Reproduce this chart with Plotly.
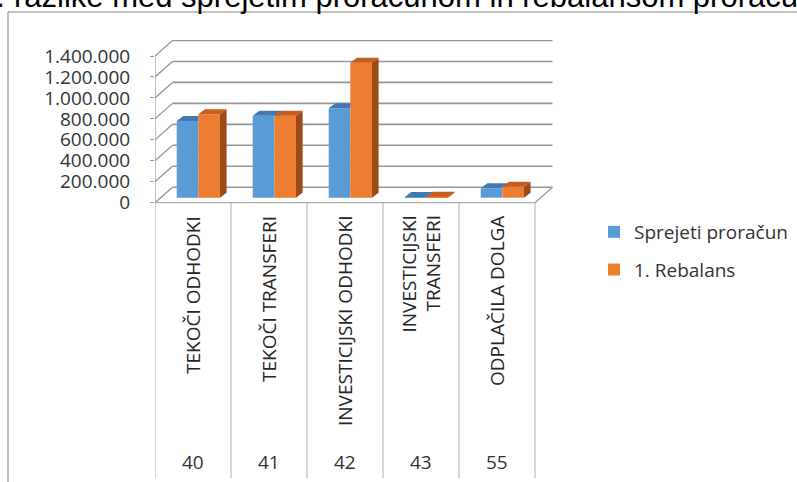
import plotly.graph_objects as go

# ---------------- data ----------------
categories = ["TEKOČI ODHODKI", "TEKOČI TRANSFERI", "INVESTICIJSKI ODHODKI",
              "INVESTICIJSKI<br>TRANSFERI", "ODPLAČILA DOLGA"]
codes = ["40", "41", "42", "43", "55"]
sprejeti = [732000, 782000, 853000, 6000, 90000]
rebalans = [796000, 782000, 1288000, 9000, 105000]
series_names = ["Sprejeti proračun", "1. Rebalans"]
y_ticks = [0, 200000, 400000, 600000, 800000, 1000000, 1200000, 1400000]
title_text = "razlike med sprejetim proračunom in rebalansom proračuna"

# ---------------- geometry (pixels of the page) ----------------
W, H = 797, 482
L, R, T, B = 155, 555, 40, 478
PXU = 76.0                       # pixels per category
x0 = -0.5
x1 = x0 + (R - L) / PXU
Y0PX = 202.7
V = 1400000 / 146.7              # value per pixel
ymax = (Y0PX - T) * V
ymin = -(B - Y0PX) * V

dxw, dyw = 17.5 / PXU, 15.5 * V   # wall depth
dxb, dyb = 6.7 / PXU, 5.0 * V     # bar depth
b0 = 5.0 * V                      # bar base (set back from the front edge)
bw = 21.6 / PXU
off_blue = (176.7 - L) / PXU - 0.5
off_orange = off_blue + bw

def pxx(px):
    return (px - L) / (R - L)

def pxy(py):
    return (B - py) / (B - T)

FONT = "Open Sans"
GRID = "#969696"
SEP = "#b0b0b0"


def clip_half(poly, axis, c, keep_ge):
    out = []
    n = len(poly)
    for i in range(n):
        p, q = poly[i], poly[(i + 1) % n]
        pin = p[axis] >= c if keep_ge else p[axis] <= c
        qin = q[axis] >= c if keep_ge else q[axis] <= c
        if pin:
            out.append(p)
        if pin != qin and q[axis] != p[axis]:
            s = (c - p[axis]) / (q[axis] - p[axis])
            out.append((p[0] + s * (q[0] - p[0]), p[1] + s * (q[1] - p[1])))
    return out


def visible_parts(poly, cover_x, cover_top):
    """poly minus the front face of the neighbouring bar (x >= cover_x, y <= cover_top)."""
    parts = []
    a = clip_half(poly, 0, cover_x, False)
    if len(a) >= 3:
        parts.append(a)
    if cover_top is not None:
        bpart = clip_half(clip_half(poly, 0, cover_x, True), 1, cover_top, True)
        if len(bpart) >= 3:
            parts.append(bpart)
    return parts


def add_polys(xs, ys, polys):
    for pg in polys:
        xs += [p[0] for p in pg] + [pg[0][0], None]
        ys += [p[1] for p in pg] + [pg[0][1], None]


def faces(vals, off, right_vals=None):
    tx, ty, sx, sy = [], [], [], []
    for i, v in enumerate(vals):
        a = i + off
        b = a + bw
        t = b0 + v
        top = [(a, t), (a + dxb, t + dyb), (b + dxb, t + dyb), (b, t)]
        side = [(b, b0), (b + dxb, b0 + dyb), (b + dxb, t + dyb), (b, t)]
        if right_vals is None:
            add_polys(tx, ty, [top])
            add_polys(sx, sy, [side])
        else:
            cover = b0 + right_vals[i]
            add_polys(tx, ty, visible_parts(top, b, cover))
            add_polys(sx, sy, visible_parts(side, b, cover))
    return tx, ty, sx, sy


fig = go.Figure()

specs = [
    (sprejeti, off_blue, "#5B9BD5", "#4478B0", "#3A6898", series_names[0], rebalans),
    (rebalans, off_orange, "#ED7D31", "#C65E1E", "#9E4A17", series_names[1], None),
]
for vals, off, cf, ct, cs, name, right in specs:
    fig.add_trace(go.Bar(x=list(range(len(vals))), y=vals, base=b0, offset=off, width=bw,
                         marker=dict(color=cf, line=dict(width=0)), name=name,
                         legendgroup=name, showlegend=True, hoverinfo="skip"))
for vals, off, cf, ct, cs, name, right in specs:
    tx, ty, sx, sy = faces(vals, off, right)
    if any(v is not None for v in sx):
        fig.add_trace(go.Scatter(x=sx, y=sy, mode="lines", fill="toself", fillcolor=cs,
                                 line=dict(width=0, color=cs), showlegend=False, hoverinfo="skip"))
    fig.add_trace(go.Scatter(x=tx, y=ty, mode="lines", fill="toself", fillcolor=ct,
                             line=dict(width=0, color=ct), showlegend=False, hoverinfo="skip"))

shapes = []
# back wall gridlines and side wall diagonals
for v in y_ticks:
    shapes.append(dict(type="line", xref="x", yref="y", x0=x0 + dxw, x1=4.5 + dxw,
                       y0=v + dyw, y1=v + dyw, line=dict(color=GRID, width=1.6), layer="below"))
    shapes.append(dict(type="line", xref="x", yref="y", x0=x0, x1=x0 + dxw,
                       y0=v, y1=v + dyw, line=dict(color=GRID, width=1.3), layer="below"))
# front vertical axis
shapes.append(dict(type="line", xref="x", yref="y", x0=x0, x1=x0, y0=0, y1=y_ticks[-1],
                   line=dict(color=GRID, width=1.2), layer="below"))
# floor front edge and right edge
shapes.append(dict(type="line", xref="x", yref="y", x0=x0, x1=4.5, y0=0, y1=0,
                   line=dict(color=SEP, width=1.2), layer="below"))
shapes.append(dict(type="line", xref="x", yref="y", x0=4.5, x1=4.5 + dxw, y0=0, y1=dyw,
                   line=dict(color=GRID, width=1.2), layer="below"))
# category table separators
for i in range(len(categories) + 1):
    shapes.append(dict(type="line", xref="x", yref="y", x0=i - 0.5, x1=i - 0.5, y0=0, y1=ymin,
                       line=dict(color=SEP, width=1), layer="below"))
# outer chart frame
shapes.append(dict(type="line", xref="paper", yref="paper", x0=pxx(8), x1=pxx(8),
                   y0=pxy(12), y1=pxy(490), line=dict(color="#868686", width=1)))
shapes.append(dict(type="line", xref="paper", yref="paper", x0=pxx(8), x1=pxx(805),
                   y0=pxy(12), y1=pxy(12), line=dict(color="#868686", width=1)))

annotations = []
for i, c in enumerate(categories):
    annotations.append(dict(x=i, y=pxy(214), xref="x", yref="paper", text=c, textangle=-90,
                            showarrow=False, xanchor="center", yanchor="top", align="right",
                            font=dict(family=FONT, size=19, color="#262626")))
    annotations.append(dict(x=i, y=pxy(461.5), xref="x", yref="paper", text=codes[i],
                            showarrow=False, xanchor="center", yanchor="middle",
                            font=dict(family=FONT, size=19, color="#333333")))
# title (cut by the page edge)
annotations.append(dict(x=pxx(12), y=pxy(16), xref="paper", yref="paper", text=title_text,
                        showarrow=False, xanchor="left", yanchor="bottom",
                        font=dict(family="Liberation Sans", size=31, color="#000000")))
annotations.append(dict(x=pxx(6.5), y=pxy(16), xref="paper", yref="paper", text="Graf 1.",
                        showarrow=False, xanchor="right", yanchor="bottom",
                        font=dict(family="Liberation Sans", size=31, color="#000000")))

fig.update_layout(
    width=W, height=H,
    margin=dict(l=L, r=W - R, t=T, b=H - B, pad=0),
    paper_bgcolor="white", plot_bgcolor="rgba(0,0,0,0)",
    barmode="overlay",
    separators=",.",
    shapes=shapes, annotations=annotations,
    showlegend=True,
    legend=dict(x=pxx(594), y=pxy(213), xref="paper", yref="paper", xanchor="left", yanchor="top",
                font=dict(family=FONT, size=19, color="#333333"), tracegroupgap=10,
                bgcolor="rgba(0,0,0,0)", itemclick=False),
    xaxis=dict(range=[x0, x1], visible=False, fixedrange=True),
    yaxis=dict(range=[ymin, ymax], tickvals=y_ticks, tickformat=",d", ticks="outside",
               ticklen=4, tickcolor=GRID, showgrid=False, zeroline=False, showline=False,
               ticklabelstandoff=16,
               tickfont=dict(family=FONT, size=19, color="#333333"), fixedrange=True),
)

fig.write_html("out.html", config={"displayModeBar": False},
               post_script="document.body.style.margin='0';document.body.style.overflow='hidden';")
